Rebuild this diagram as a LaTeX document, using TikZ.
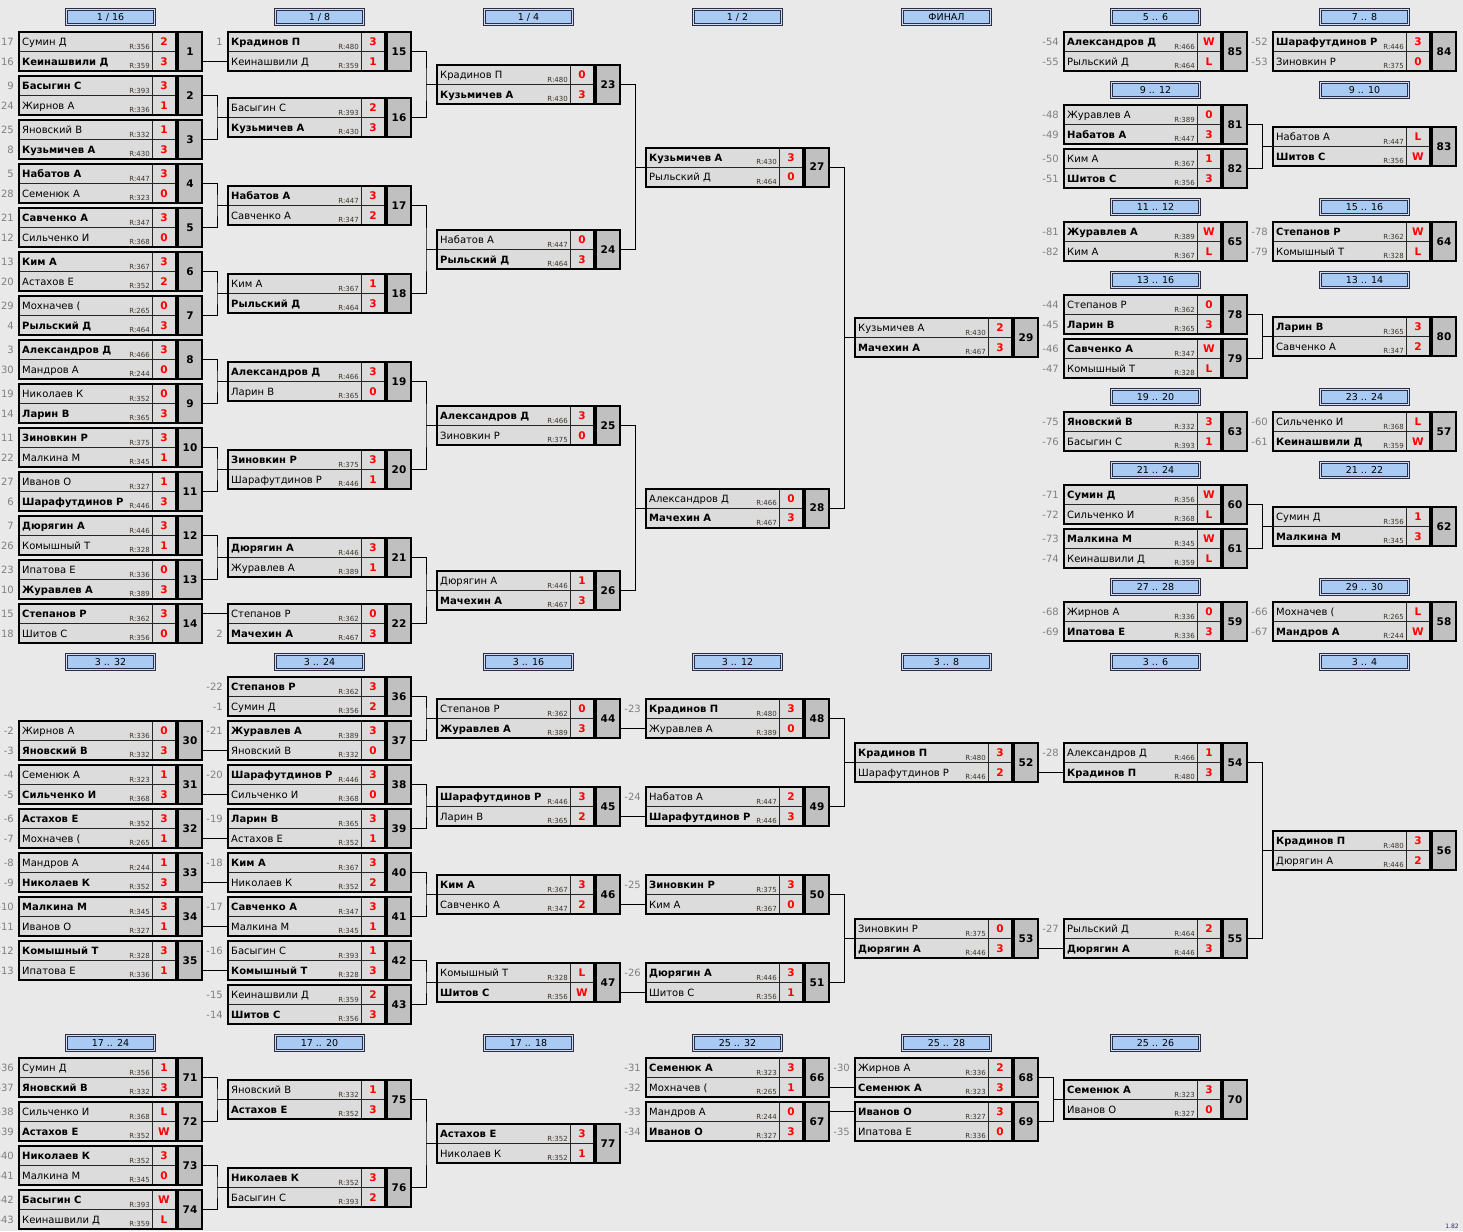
\documentclass[tikz,border=0pt]{standalone}
\usepackage{fontspec}
\setmainfont{DejaVu Sans}
\usepackage{tikz}
\usepackage{xcolor}

\definecolor{bg}{RGB}{233,233,233}
\definecolor{cellgray}{RGB}{220,220,220}
\definecolor{numgray}{RGB}{192,192,192}
\definecolor{headblue}{RGB}{169,202,242}
\definecolor{headline}{RGB}{45,45,70}
\definecolor{headinner}{RGB}{205,222,245}
\definecolor{seedgray}{RGB}{128,128,128}
\definecolor{ratebrown}{RGB}{60,52,40}
\definecolor{versionblue}{RGB}{40,40,100}

\tikzset{
    namecell/.style = {draw = black!85, line width = 0.7, fill = cellgray, minimum width = 133,
        minimum height = 19.5, inner sep = 0, outer sep = 0},
    scorecell/.style = {namecell, minimum width = 24},
    numcell/.style = {fill = numgray, minimum width = 24, minimum height = 39, inner sep = 0,
        outer sep = 0, font = \bfseries\fontsize{10.5}{11}\selectfont},
    frame/.style = {line width = 2},
    link/.style = {line width = 1},
    pname/.style = {inner sep = 0, font = \fontsize{10}{11}\selectfont},
    seedlbl/.style = {inner sep = 0, text = seedgray, font = \fontsize{10}{11}\selectfont},
    rating/.style = {inner sep = 0, text = ratebrown, font = \fontsize{7}{7}\selectfont},
    score/.style = {inner sep = 0, text = red, font = \bfseries\fontsize{10.5}{11}\selectfont},
    header/.style = {draw = headline, double = headinner, double distance = 1, line width = 0.8,
        fill = headblue, minimum width = 88, minimum height = 15, inner sep = 0,
        font = \fontsize{9.5}{10}\selectfont}
}

% one match: name, left x, centre y, number
\newcommand\matchbox[4]{%
    \node[namecell, anchor = south west] (#1a) at (#2,#3) {};
    \node[namecell, anchor = north west] (#1b) at (#2,#3) {};
    \node[scorecell, anchor = west] (#1as) at (#1a.east) {};
    \node[scorecell, anchor = west] (#1bs) at (#1b.east) {};
    \node[numcell, anchor = west] (#1) at ([xshift = 2]#1as.south east) {#4};
    \draw[frame] (#1a.north west) rectangle (#1bs.south east);
    \draw[frame] (#1.north west) rectangle (#1.south east);
}
% one line of a match: cell, seed, name, rating, score
\newcommand\player[5]{%
    \node[seedlbl, anchor = base east] (#1sd) at ([xshift = -5, yshift = -4]#1.west) {#2};
    \node[pname, anchor = base west] (#1n) at ([xshift = 3, yshift = -4]#1.west) {#3};
    \node[rating, anchor = base east] (#1r) at ([xshift = -2, yshift = 2.5]#1.south east) {R:#4};
    \node[score, anchor = base] (#1sc) at ([yshift = -4]#1s.center) {#5};
}
\newcommand\head[4]{\node[header] (#1) at (#2+91.5,#3) {#4};}
\newcommand\straight[2]{\draw[link] (#1.east |- #2.west) -- (#2.west);}
\newcommand\elbow[3]{%
    \draw[link] (#1.east) -| ([xshift = -11]#3a.south west) |- (#2.east);
    \draw[link] ([xshift = -11]#3a.south west) -- (#3a.south west);
}

\begin{document}
\begin{tikzpicture}[x = 1pt, y = -1pt]
        \useasboundingbox (0,0) rectangle (1463,1231);
        \fill[bg] (0,0) rectangle (1463,1231);

        % headers
        \head{h1}{19}{17}{1 / 16}
        \head{h2}{228}{17}{1 / 8}
        \head{h3}{437}{17}{1 / 4}
        \head{h4}{646}{17}{1 / 2}
        \head{h5}{855}{17}{ФИНАЛ}
        \head{h6}{1064}{17}{5 .. 6}
        \head{h7}{1273}{17}{7 .. 8}
        \head{h8}{1064}{90}{9 .. 12}
        \head{h9}{1273}{90}{9 .. 10}
        \head{h10}{1064}{207}{11 .. 12}
        \head{h11}{1273}{207}{15 .. 16}
        \head{h12}{1064}{280}{13 .. 16}
        \head{h13}{1273}{280}{13 .. 14}
        \head{h14}{1064}{397}{19 .. 20}
        \head{h15}{1273}{397}{23 .. 24}
        \head{h16}{1064}{470}{21 .. 24}
        \head{h17}{1273}{470}{21 .. 22}
        \head{h18}{1064}{587}{27 .. 28}
        \head{h19}{1273}{587}{29 .. 30}
        \head{h20}{19}{662}{3 .. 32}
        \head{h21}{228}{662}{3 .. 24}
        \head{h22}{437}{662}{3 .. 16}
        \head{h23}{646}{662}{3 .. 12}
        \head{h24}{855}{662}{3 .. 8}
        \head{h25}{1064}{662}{3 .. 6}
        \head{h26}{1273}{662}{3 .. 4}
        \head{h27}{19}{1043}{17 .. 24}
        \head{h28}{228}{1043}{17 .. 20}
        \head{h29}{437}{1043}{17 .. 18}
        \head{h30}{646}{1043}{25 .. 32}
        \head{h31}{855}{1043}{25 .. 28}
        \head{h32}{1064}{1043}{25 .. 26}

        % 1/16
        \matchbox{m1}{19}{51.5}{1}
        \player{m1a}{17}{Сумин Д}{356}{2}
        \player{m1b}{16}{\textbf{Кеинашвили Д}}{359}{3}
        \matchbox{m2}{19}{95.5}{2}
        \player{m2a}{9}{\textbf{Басыгин С}}{393}{3}
        \player{m2b}{24}{Жирнов А}{336}{1}
        \matchbox{m3}{19}{139.5}{3}
        \player{m3a}{25}{Яновский В}{332}{1}
        \player{m3b}{8}{\textbf{Кузьмичев А}}{430}{3}
        \matchbox{m4}{19}{183.5}{4}
        \player{m4a}{5}{\textbf{Набатов А}}{447}{3}
        \player{m4b}{28}{Семенюк А}{323}{0}
        \matchbox{m5}{19}{227.5}{5}
        \player{m5a}{21}{\textbf{Савченко А}}{347}{3}
        \player{m5b}{12}{Сильченко И}{368}{0}
        \matchbox{m6}{19}{271.5}{6}
        \player{m6a}{13}{\textbf{Ким А}}{367}{3}
        \player{m6b}{20}{Астахов Е}{352}{2}
        \matchbox{m7}{19}{315.5}{7}
        \player{m7a}{29}{Мохначев (}{265}{0}
        \player{m7b}{4}{\textbf{Рыльский Д}}{464}{3}
        \matchbox{m8}{19}{359.5}{8}
        \player{m8a}{3}{\textbf{Александров Д}}{466}{3}
        \player{m8b}{30}{Мандров А}{244}{0}
        \matchbox{m9}{19}{403.5}{9}
        \player{m9a}{19}{Николаев К}{352}{0}
        \player{m9b}{14}{\textbf{Ларин В}}{365}{3}
        \matchbox{m10}{19}{447.5}{10}
        \player{m10a}{11}{\textbf{Зиновкин Р}}{375}{3}
        \player{m10b}{22}{Малкина М}{345}{1}
        \matchbox{m11}{19}{491.5}{11}
        \player{m11a}{27}{Иванов О}{327}{1}
        \player{m11b}{6}{\textbf{Шарафутдинов Р}}{446}{3}
        \matchbox{m12}{19}{535.5}{12}
        \player{m12a}{7}{\textbf{Дюрягин А}}{446}{3}
        \player{m12b}{26}{Комышный Т}{328}{1}
        \matchbox{m13}{19}{579.5}{13}
        \player{m13a}{23}{Ипатова Е}{336}{0}
        \player{m13b}{10}{\textbf{Журавлев А}}{389}{3}
        \matchbox{m14}{19}{623.5}{14}
        \player{m14a}{15}{\textbf{Степанов Р}}{362}{3}
        \player{m14b}{18}{Шитов С}{356}{0}

        % 1/8
        \matchbox{m15}{228}{51.5}{15}
        \player{m15a}{1}{\textbf{Крадинов П}}{480}{3}
        \player{m15b}{}{Кеинашвили Д}{359}{1}
        \matchbox{m16}{228}{117.5}{16}
        \player{m16a}{}{Басыгин С}{393}{2}
        \player{m16b}{}{\textbf{Кузьмичев А}}{430}{3}
        \matchbox{m17}{228}{205.5}{17}
        \player{m17a}{}{\textbf{Набатов А}}{447}{3}
        \player{m17b}{}{Савченко А}{347}{2}
        \matchbox{m18}{228}{293.5}{18}
        \player{m18a}{}{Ким А}{367}{1}
        \player{m18b}{}{\textbf{Рыльский Д}}{464}{3}
        \matchbox{m19}{228}{381.5}{19}
        \player{m19a}{}{\textbf{Александров Д}}{466}{3}
        \player{m19b}{}{Ларин В}{365}{0}
        \matchbox{m20}{228}{469.5}{20}
        \player{m20a}{}{\textbf{Зиновкин Р}}{375}{3}
        \player{m20b}{}{Шарафутдинов Р}{446}{1}
        \matchbox{m21}{228}{557.5}{21}
        \player{m21a}{}{\textbf{Дюрягин А}}{446}{3}
        \player{m21b}{}{Журавлев А}{389}{1}
        \matchbox{m22}{228}{623.5}{22}
        \player{m22a}{}{Степанов Р}{362}{0}
        \player{m22b}{2}{\textbf{Мачехин А}}{467}{3}

        % 1/4, 1/2, final
        \matchbox{m23}{437}{84.5}{23}
        \player{m23a}{}{Крадинов П}{480}{0}
        \player{m23b}{}{\textbf{Кузьмичев А}}{430}{3}
        \matchbox{m24}{437}{249.5}{24}
        \player{m24a}{}{Набатов А}{447}{0}
        \player{m24b}{}{\textbf{Рыльский Д}}{464}{3}
        \matchbox{m25}{437}{425.5}{25}
        \player{m25a}{}{\textbf{Александров Д}}{466}{3}
        \player{m25b}{}{Зиновкин Р}{375}{0}
        \matchbox{m26}{437}{590.5}{26}
        \player{m26a}{}{Дюрягин А}{446}{1}
        \player{m26b}{}{\textbf{Мачехин А}}{467}{3}
        \matchbox{m27}{646}{167}{27}
        \player{m27a}{}{\textbf{Кузьмичев А}}{430}{3}
        \player{m27b}{}{Рыльский Д}{464}{0}
        \matchbox{m28}{646}{508}{28}
        \player{m28a}{}{Александров Д}{466}{0}
        \player{m28b}{}{\textbf{Мачехин А}}{467}{3}
        \matchbox{m29}{855}{337.5}{29}
        \player{m29a}{}{Кузьмичев А}{430}{2}
        \player{m29b}{}{\textbf{Мачехин А}}{467}{3}

        % places 5..30
        \matchbox{m85}{1064}{51.5}{85}
        \player{m85a}{-54}{\textbf{Александров Д}}{466}{W}
        \player{m85b}{-55}{Рыльский Д}{464}{L}
        \matchbox{m84}{1273}{51.5}{84}
        \player{m84a}{-52}{\textbf{Шарафутдинов Р}}{446}{3}
        \player{m84b}{-53}{Зиновкин Р}{375}{0}
        \matchbox{m81}{1064}{124.5}{81}
        \player{m81a}{-48}{Журавлев А}{389}{0}
        \player{m81b}{-49}{\textbf{Набатов А}}{447}{3}
        \matchbox{m82}{1064}{168.5}{82}
        \player{m82a}{-50}{Ким А}{367}{1}
        \player{m82b}{-51}{\textbf{Шитов С}}{356}{3}
        \matchbox{m83}{1273}{146.5}{83}
        \player{m83a}{}{Набатов А}{447}{L}
        \player{m83b}{}{\textbf{Шитов С}}{356}{W}
        \matchbox{m65}{1064}{241.5}{65}
        \player{m65a}{-81}{\textbf{Журавлев А}}{389}{W}
        \player{m65b}{-82}{Ким А}{367}{L}
        \matchbox{m64}{1273}{241.5}{64}
        \player{m64a}{-78}{\textbf{Степанов Р}}{362}{W}
        \player{m64b}{-79}{Комышный Т}{328}{L}
        \matchbox{m78}{1064}{314.5}{78}
        \player{m78a}{-44}{Степанов Р}{362}{0}
        \player{m78b}{-45}{\textbf{Ларин В}}{365}{3}
        \matchbox{m79}{1064}{358.5}{79}
        \player{m79a}{-46}{\textbf{Савченко А}}{347}{W}
        \player{m79b}{-47}{Комышный Т}{328}{L}
        \matchbox{m80}{1273}{336.5}{80}
        \player{m80a}{}{\textbf{Ларин В}}{365}{3}
        \player{m80b}{}{Савченко А}{347}{2}
        \matchbox{m63}{1064}{431.5}{63}
        \player{m63a}{-75}{\textbf{Яновский В}}{332}{3}
        \player{m63b}{-76}{Басыгин С}{393}{1}
        \matchbox{m57}{1273}{431.5}{57}
        \player{m57a}{-60}{Сильченко И}{368}{L}
        \player{m57b}{-61}{\textbf{Кеинашвили Д}}{359}{W}
        \matchbox{m60}{1064}{504.5}{60}
        \player{m60a}{-71}{\textbf{Сумин Д}}{356}{W}
        \player{m60b}{-72}{Сильченко И}{368}{L}
        \matchbox{m61}{1064}{548.5}{61}
        \player{m61a}{-73}{\textbf{Малкина М}}{345}{W}
        \player{m61b}{-74}{Кеинашвили Д}{359}{L}
        \matchbox{m62}{1273}{526.5}{62}
        \player{m62a}{}{Сумин Д}{356}{1}
        \player{m62b}{}{\textbf{Малкина М}}{345}{3}
        \matchbox{m59}{1064}{621.5}{59}
        \player{m59a}{-68}{Жирнов А}{336}{0}
        \player{m59b}{-69}{\textbf{Ипатова Е}}{336}{3}
        \matchbox{m58}{1273}{621.5}{58}
        \player{m58a}{-66}{Мохначев (}{265}{L}
        \player{m58b}{-67}{\textbf{Мандров А}}{244}{W}

        % 3..32
        \matchbox{m30}{19}{740.5}{30}
        \player{m30a}{-2}{Жирнов А}{336}{0}
        \player{m30b}{-3}{\textbf{Яновский В}}{332}{3}
        \matchbox{m31}{19}{784.5}{31}
        \player{m31a}{-4}{Семенюк А}{323}{1}
        \player{m31b}{-5}{\textbf{Сильченко И}}{368}{3}
        \matchbox{m32}{19}{828.5}{32}
        \player{m32a}{-6}{\textbf{Астахов Е}}{352}{3}
        \player{m32b}{-7}{Мохначев (}{265}{1}
        \matchbox{m33}{19}{872.5}{33}
        \player{m33a}{-8}{Мандров А}{244}{1}
        \player{m33b}{-9}{\textbf{Николаев К}}{352}{3}
        \matchbox{m34}{19}{916.5}{34}
        \player{m34a}{-10}{\textbf{Малкина М}}{345}{3}
        \player{m34b}{-11}{Иванов О}{327}{1}
        \matchbox{m35}{19}{960.5}{35}
        \player{m35a}{-12}{\textbf{Комышный Т}}{328}{3}
        \player{m35b}{-13}{Ипатова Е}{336}{1}

        \matchbox{m36}{228}{696.5}{36}
        \player{m36a}{-22}{\textbf{Степанов Р}}{362}{3}
        \player{m36b}{-1}{Сумин Д}{356}{2}
        \matchbox{m37}{228}{740.5}{37}
        \player{m37a}{-21}{\textbf{Журавлев А}}{389}{3}
        \player{m37b}{}{Яновский В}{332}{0}
        \matchbox{m38}{228}{784.5}{38}
        \player{m38a}{-20}{\textbf{Шарафутдинов Р}}{446}{3}
        \player{m38b}{}{Сильченко И}{368}{0}
        \matchbox{m39}{228}{828.5}{39}
        \player{m39a}{-19}{\textbf{Ларин В}}{365}{3}
        \player{m39b}{}{Астахов Е}{352}{1}
        \matchbox{m40}{228}{872.5}{40}
        \player{m40a}{-18}{\textbf{Ким А}}{367}{3}
        \player{m40b}{}{Николаев К}{352}{2}
        \matchbox{m41}{228}{916.5}{41}
        \player{m41a}{-17}{\textbf{Савченко А}}{347}{3}
        \player{m41b}{}{Малкина М}{345}{1}
        \matchbox{m42}{228}{960.5}{42}
        \player{m42a}{-16}{Басыгин С}{393}{1}
        \player{m42b}{}{\textbf{Комышный Т}}{328}{3}
        \matchbox{m43}{228}{1004.5}{43}
        \player{m43a}{-15}{Кеинашвили Д}{359}{2}
        \player{m43b}{-14}{\textbf{Шитов С}}{356}{3}

        \matchbox{m44}{437}{718.5}{44}
        \player{m44a}{}{Степанов Р}{362}{0}
        \player{m44b}{}{\textbf{Журавлев А}}{389}{3}
        \matchbox{m45}{437}{806.5}{45}
        \player{m45a}{}{\textbf{Шарафутдинов Р}}{446}{3}
        \player{m45b}{}{Ларин В}{365}{2}
        \matchbox{m46}{437}{894.5}{46}
        \player{m46a}{}{\textbf{Ким А}}{367}{3}
        \player{m46b}{}{Савченко А}{347}{2}
        \matchbox{m47}{437}{982.5}{47}
        \player{m47a}{}{Комышный Т}{328}{L}
        \player{m47b}{}{\textbf{Шитов С}}{356}{W}

        \matchbox{m48}{646}{718.5}{48}
        \player{m48a}{-23}{\textbf{Крадинов П}}{480}{3}
        \player{m48b}{}{Журавлев А}{389}{0}
        \matchbox{m49}{646}{806.5}{49}
        \player{m49a}{-24}{Набатов А}{447}{2}
        \player{m49b}{}{\textbf{Шарафутдинов Р}}{446}{3}
        \matchbox{m50}{646}{894.5}{50}
        \player{m50a}{-25}{\textbf{Зиновкин Р}}{375}{3}
        \player{m50b}{}{Ким А}{367}{0}
        \matchbox{m51}{646}{982.5}{51}
        \player{m51a}{-26}{\textbf{Дюрягин А}}{446}{3}
        \player{m51b}{}{Шитов С}{356}{1}

        \matchbox{m52}{855}{762.5}{52}
        \player{m52a}{}{\textbf{Крадинов П}}{480}{3}
        \player{m52b}{}{Шарафутдинов Р}{446}{2}
        \matchbox{m53}{855}{938.5}{53}
        \player{m53a}{}{Зиновкин Р}{375}{0}
        \player{m53b}{}{\textbf{Дюрягин А}}{446}{3}
        \matchbox{m54}{1064}{762.5}{54}
        \player{m54a}{-28}{Александров Д}{466}{1}
        \player{m54b}{}{\textbf{Крадинов П}}{480}{3}
        \matchbox{m55}{1064}{938.5}{55}
        \player{m55a}{-27}{Рыльский Д}{464}{2}
        \player{m55b}{}{\textbf{Дюрягин А}}{446}{3}
        \matchbox{m56}{1273}{850.5}{56}
        \player{m56a}{}{\textbf{Крадинов П}}{480}{3}
        \player{m56b}{}{Дюрягин А}{446}{2}

        % 17..32
        \matchbox{m71}{19}{1077.5}{71}
        \player{m71a}{-36}{Сумин Д}{356}{1}
        \player{m71b}{-37}{\textbf{Яновский В}}{332}{3}
        \matchbox{m72}{19}{1121.5}{72}
        \player{m72a}{-38}{Сильченко И}{368}{L}
        \player{m72b}{-39}{\textbf{Астахов Е}}{352}{W}
        \matchbox{m73}{19}{1165.5}{73}
        \player{m73a}{-40}{\textbf{Николаев К}}{352}{3}
        \player{m73b}{-41}{Малкина М}{345}{0}
        \matchbox{m74}{19}{1209.5}{74}
        \player{m74a}{-42}{\textbf{Басыгин С}}{393}{W}
        \player{m74b}{-43}{Кеинашвили Д}{359}{L}
        \matchbox{m75}{228}{1099.5}{75}
        \player{m75a}{}{Яновский В}{332}{1}
        \player{m75b}{}{\textbf{Астахов Е}}{352}{3}
        \matchbox{m76}{228}{1187.5}{76}
        \player{m76a}{}{\textbf{Николаев К}}{352}{3}
        \player{m76b}{}{Басыгин С}{393}{2}
        \matchbox{m77}{437}{1143.5}{77}
        \player{m77a}{}{\textbf{Астахов Е}}{352}{3}
        \player{m77b}{}{Николаев К}{352}{1}
        \matchbox{m66}{646}{1077.5}{66}
        \player{m66a}{-31}{\textbf{Семенюк А}}{323}{3}
        \player{m66b}{-32}{Мохначев (}{265}{1}
        \matchbox{m67}{646}{1121.5}{67}
        \player{m67a}{-33}{Мандров А}{244}{0}
        \player{m67b}{-34}{\textbf{Иванов О}}{327}{3}
        \matchbox{m68}{855}{1077.5}{68}
        \player{m68a}{-30}{Жирнов А}{336}{2}
        \player{m68b}{}{\textbf{Семенюк А}}{323}{3}
        \matchbox{m69}{855}{1121.5}{69}
        \player{m69a}{}{\textbf{Иванов О}}{327}{3}
        \player{m69b}{-35}{Ипатова Е}{336}{0}
        \matchbox{m70}{1064}{1099.5}{70}
        \player{m70a}{}{\textbf{Семенюк А}}{323}{3}
        \player{m70b}{}{Иванов О}{327}{0}

        % connectors
        \straight{m1}{m15b}
        \elbow{m2}{m3}{m16}
        \elbow{m4}{m5}{m17}
        \elbow{m6}{m7}{m18}
        \elbow{m8}{m9}{m19}
        \elbow{m10}{m11}{m20}
        \elbow{m12}{m13}{m21}
        \straight{m14}{m22a}
        \elbow{m15}{m16}{m23}
        \elbow{m17}{m18}{m24}
        \elbow{m19}{m20}{m25}
        \elbow{m21}{m22}{m26}
        \elbow{m23}{m24}{m27}
        \elbow{m25}{m26}{m28}
        \elbow{m27}{m28}{m29}
        \elbow{m81}{m82}{m83}
        \elbow{m78}{m79}{m80}
        \elbow{m60}{m61}{m62}
        \straight{m30}{m37b}
        \straight{m31}{m38b}
        \straight{m32}{m39b}
        \straight{m33}{m40b}
        \straight{m34}{m41b}
        \straight{m35}{m42b}
        \elbow{m36}{m37}{m44}
        \elbow{m38}{m39}{m45}
        \elbow{m40}{m41}{m46}
        \elbow{m42}{m43}{m47}
        \straight{m44}{m48b}
        \straight{m45}{m49b}
        \straight{m46}{m50b}
        \straight{m47}{m51b}
        \elbow{m48}{m49}{m52}
        \elbow{m50}{m51}{m53}
        \straight{m52}{m54b}
        \straight{m53}{m55b}
        \elbow{m54}{m55}{m56}
        \elbow{m71}{m72}{m75}
        \elbow{m73}{m74}{m76}
        \elbow{m75}{m76}{m77}
        \straight{m66}{m68b}
        \straight{m67}{m69a}
        \elbow{m68}{m69}{m70}

        \node[inner sep = 0, text = versionblue, font = \fontsize{6}{6}\selectfont] (ver) at (1452,1226) {1.82};
    \end{tikzpicture}
\end{document}
